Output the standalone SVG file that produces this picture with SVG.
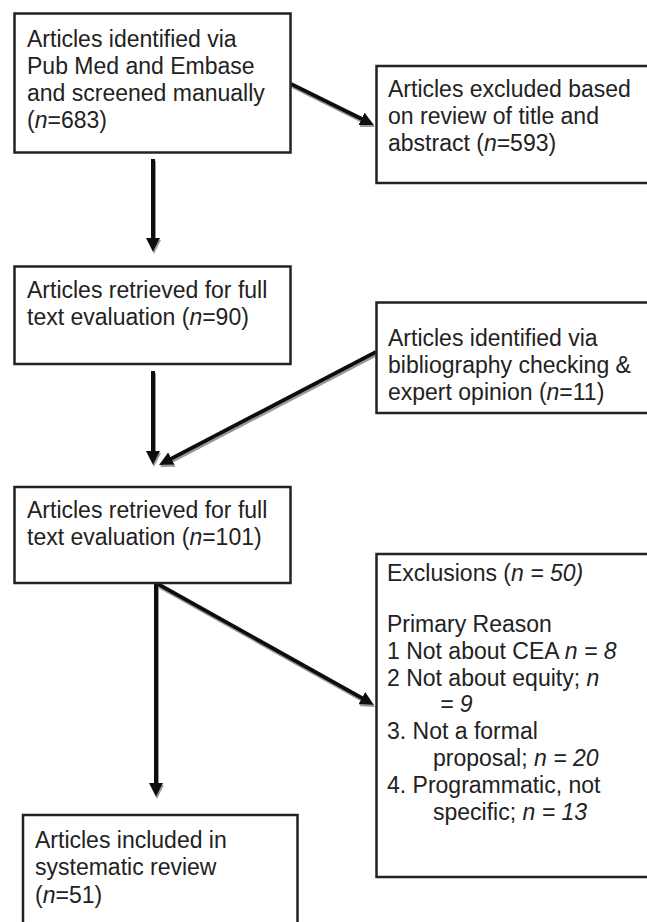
<svg xmlns="http://www.w3.org/2000/svg" width="647" height="922" viewBox="0 0 647 922">
<style>
.box{fill:#fff;stroke:#222;stroke-width:2.5}
text{font-family:"Liberation Sans",Arial,sans-serif;font-size:23px;fill:#222}
.i{font-style:italic}
.c{stroke:#111;stroke-width:4;fill:none;marker-end:url(#ah)}
</style>
<defs>
<marker id="ah" viewBox="0 0 14 14" refX="4" refY="7" markerWidth="14" markerHeight="14" markerUnits="userSpaceOnUse" orient="auto">
<path d="M0,0 L14,7 L0,14 z" fill="#111"/>
</marker>
<filter id="sh" x="-10%" y="-10%" width="120%" height="120%">
<feDropShadow dx="1" dy="2" stdDeviation="0.4" flood-color="#999" flood-opacity="1"/>
</filter>
</defs>
<rect width="647" height="922" fill="#fff"/>
<g id="connectors" filter="url(#sh)">
<line class="c" x1="291" y1="84" x2="365" y2="120.6"/>
<line class="c" x1="153" y1="159" x2="153" y2="242"/>
<line class="c" x1="153" y1="371" x2="153" y2="455"/>
<line class="c" x1="376" y1="352" x2="167.9" y2="460.4"/>
<line class="c" x1="156" y1="583" x2="365.3" y2="700.1"/>
<line class="c" x1="156" y1="583" x2="156" y2="787"/>
</g>
<g id="n1">
<rect class="box" x="14.5" y="13.5" width="276" height="139"/>
<text x="27" y="47">Articles identified via</text>
<text x="27" y="74">Pub Med and Embase</text>
<text x="27" y="101">and screened manually</text>
<text x="27" y="128">(<tspan class="i">n</tspan>=683)</text>
</g>
<g id="n2">
<rect class="box" x="376.5" y="66" width="280" height="117"/>
<text x="388" y="97">Articles excluded based</text>
<text x="388" y="124">on review of title and</text>
<text x="388" y="151">abstract  (<tspan class="i">n</tspan>=593)</text>
</g>
<g id="n3">
<rect class="box" x="14.5" y="266.5" width="276" height="97.5"/>
<text x="27" y="298">Articles retrieved for full</text>
<text x="27" y="325">text evaluation (<tspan class="i">n</tspan>=90)</text>
</g>
<g id="n4">
<rect class="box" x="376.5" y="302.5" width="280" height="110.5"/>
<text x="388" y="346">Articles identified via</text>
<text x="388" y="373">bibliography checking &amp;</text>
<text x="388" y="400">expert opinion (<tspan class="i">n</tspan>=11)</text>
</g>
<g id="n5">
<rect class="box" x="14.5" y="487" width="276" height="96"/>
<text x="27" y="518">Articles retrieved for full</text>
<text x="27" y="545">text evaluation (<tspan class="i">n</tspan>=101)</text>
</g>
<g id="n6">
<rect class="box" x="376.5" y="554" width="280" height="323"/>
<text x="387" y="581">Exclusions (<tspan class="i">n = 50)</tspan></text>
<text x="387" y="632">Primary Reason</text>
<text x="387" y="659">1 Not about CEA <tspan class="i">n = 8</tspan></text>
<text x="387" y="686">2 Not about equity; <tspan class="i">n</tspan></text>
<text x="440" y="712" class="i">= 9</text>
<text x="387" y="739">3. Not a formal</text>
<text x="433" y="766">proposal; <tspan class="i">n = 20</tspan></text>
<text x="387" y="793">4. Programmatic, not</text>
<text x="433" y="820">specific; <tspan class="i">n = 13</tspan></text>
</g>
<g id="n7">
<rect class="box" x="23" y="815" width="274.5" height="120"/>
<text x="35" y="848">Articles included in</text>
<text x="35" y="875">systematic review</text>
<text x="35" y="903">(<tspan class="i">n</tspan>=51)</text>
</g>
</svg>
